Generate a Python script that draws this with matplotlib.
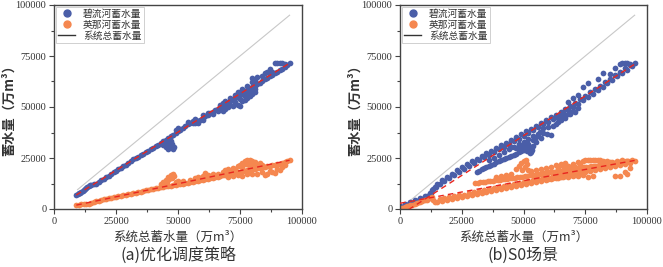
import matplotlib
matplotlib.use("Agg")
import matplotlib.pyplot as plt
import numpy as np
from matplotlib.lines import Line2D

plt.rcParams['font.family'] = ['Noto Sans CJK SC', 'DejaVu Sans']

# ---- data (万m3) ----
# (a) optimised schedule
a_blue = [(9000,6800),(9500,7200),(10000,7600),(10500,8000),(11000,8500),(11500,9000),(12000,9500),(12500,10000),
    (13000,10500),(13500,11000),(14000,11400),(14500,11800),(15000,12000),(16000,12100),(17000,12400),(18000,13200),
    (19000,14000),(20000,14800),(21000,15600),(22000,16400),(23000,17100),(24000,17900),(25000,18600),(26000,19400),
    (27000,20200),(28000,21000),(29000,21800),(30000,22600),(31000,23600),(32000,24400),(33000,25000),(34000,25700),
    (35000,26400),(36000,27100),(37000,27800),(38000,28600),(39000,29300),(40000,30100),(41000,30900),(42000,31600),
    (43000,32400),(44000,33100),(45000,33900),(46000,34600),(47000,35600),(48000,36400),(49000,37300),(50000,38100),
    (51000,38800),(52000,39500),(53000,40600),(54000,41500),(55000,42000),(56000,42100),(57000,42300),(58000,43000),
    (59000,43800),(60000,44600),(61000,45400),(62000,46100),(63000,46900),(64000,47700),(65000,48500),(66000,49200),
    (67000,50000),(68000,50700),(69000,51500),(70000,52200),(71000,53000),(72000,53700),(73000,54500),(74000,55200),
    (75000,56000),(76000,56700),(77000,57500),(78000,58200),(79000,59000),(80000,59700),(81000,60500),(82000,61200),
    (83000,62000),(84000,62700),(85000,63500),(86000,64200),(87000,65000),(88000,65800),(89000,66500),(90000,67300),
    (91000,68000),(92000,68800),(93000,69600),(94000,70400),(95000,71400),
    (44000,31200),(45000,30200),(45500,31800),(46000,29600),(46500,32600),(47000,30600),(47500,31800),(48000,29200),
    (48500,30400),(47000,33500),(49000,38800),(50000,39800),(54000,42600),(56000,43200),(58000,42000),(60000,43600),
    (62000,47200),(64000,46800),(66000,48000),(67000,51200),(68000,48200),(69000,49000),(70000,50000),(71000,51000),
    (72000,50400),(73000,52300),(74000,51200),(75000,50400),(76000,52800),(77000,53500),(78000,54200),(78000,56300),
    (79000,55200),(79500,57000),(80000,56200),(80500,58200),(81000,57400),(81000,59000),(77000,55400),(75000,53800),
    (73000,55800),(71000,54600),(69000,52800),(68000,52000),(74000,57400),(76000,58600),(78000,60200),(80000,62400),
    (81000,63400),(82000,64800),(84000,65200),(85000,66600),(86000,67400),(87000,68800),(88000,67200),(89000,71400),
    (90000,71600),(91000,71500),(92000,71600),(93000,71300),(80000,64200),(60000,46300),(57000,44200)]

a_orange = [(9000,2000),(10000,2100),(11000,2300),(12000,2500),(13000,2300),(14000,2500),(15000,3000),(16000,3500),
    (17000,3800),(18000,4100),(19000,4400),(20000,4700),(21000,4900),(22000,5200),(23000,5400),(24000,5700),
    (25000,5900),(26000,6200),(27000,6400),(28000,6700),(29000,6900),(30000,7200),(31000,7400),(32000,7700),
    (33000,7900),(34000,8200),(35000,8500),(36000,8800),(37000,9100),(38000,9400),(39000,9700),(40000,10000),
    (41000,10200),(42000,10500),(43000,10700),(44000,10900),(45000,11100),(46000,11300),(47000,11500),(48000,11700),
    (49000,11900),(50000,12100),(51000,12300),(52000,12500),(53000,12700),(54000,12900),(55000,13200),(56000,13400),
    (57000,13700),(58000,13900),(59000,14200),(60000,14400),(61000,14700),(62000,14900),(63000,15200),(64000,15400),
    (65000,15700),(66000,15900),(67000,16200),(68000,16500),(69000,16700),(70000,17000),(71000,17200),(72000,17500),
    (73000,17700),(74000,18000),(75000,18200),(76000,18500),(77000,18700),(78000,19000),(79000,19200),(80000,19500),
    (81000,19700),(82000,20000),(83000,20200),(84000,20500),(85000,20700),(86000,21000),(87000,21200),(88000,21500),
    (89000,21700),(90000,22000),(91000,22300),(92000,22600),(93000,23000),(94000,23400),(95000,23800),
    (44000,13200),(45000,14200),(45500,13000),(46000,15600),(46500,14600),(47000,16600),(47500,15400),(48000,17400),
    (48500,16200),(49000,13400),(43000,12400),(50000,13600),(52000,13600),(55000,14400),(57000,15000),(58000,15800),
    (59000,15200),(60000,16400),(61000,17600),(62000,16600),(63000,16000),(64000,17200),(66000,17400),(68000,18200),
    (69000,19000),(70000,19400),(71000,18600),(72000,20200),(73000,19400),(74000,21000),(75000,21800),(76000,22600),
    (77000,23400),(77500,22200),(78000,24000),(79000,24000),(80000,23600),(81000,23200),(78500,21600),(80000,21000),
    (79000,22800),(76000,20400),(82000,21800),(83000,22400),(84000,21600),(72000,16200),(74000,16800),(76000,16400),
    (78000,17400),(80000,17200),(82000,17400),(84000,18000),(85000,16800),(86000,17200),(87000,18600),(88000,18200),
    (89000,17600),(90000,19600),(91000,19000),(92000,20400),(93000,21800),(70000,15800)]

# (b) S0 scenario
b_blue = [(0,1500),(1000,1200),(2000,2300),(3000,2000),(4000,3200),(5000,2900),(6000,4200),(7000,3900),(8000,5200),
    (9000,4900),(10000,6400),(11000,6300),(12000,7800),(12500,7600),(13000,9400),(13500,9600),(14000,11000),
    (14500,11000),(15000,12300),(16000,12500),
    (17000,14200),(18000,13600),(19000,15800),(20000,15100),(21000,17300),(22000,16700),(23000,18900),(24000,18200),
    (25000,20400),(26000,19800),(27000,21900),(28000,21300),(29000,23400),(30000,22600),(31000,24700),(32000,23900),
    (33000,26000),(34000,25300),(35000,27300),(36000,26600),(37000,28600),(38000,27900),(39000,29900),(40000,29200),
    (41000,31200),(42000,30500),(43000,32500),(44000,31800),(45000,33800),(46000,33100),(47000,35200),(48000,34500),
    (49000,36600),(50000,35900),(51000,38000),(52000,37300),(53000,39400),(54000,38700),(55000,40800),(56000,40100),
    (57000,42200),(58000,41500),(59000,43600),(60000,42800),(61000,44900),(62000,44200),(63000,46300),(64000,45600),
    (65000,47700),(66000,47000),(67000,49100),(68000,48400),(69000,50500),(70000,49900),(71000,52200),(72000,51600),
    (73000,53800),(74000,53300),(75000,55500),(76000,54900),(77000,57200),(78000,56600),(79000,58900),(80000,58300),
    (81000,60500),(82000,59900),(83000,62200),(84000,61600),(85000,63800),(86000,63300),(87000,65500),(88000,65000),
    (89000,67200),(90000,66600),(91000,68900),(92000,68300),(93000,70500),(94000,69900),(95000,71500),
    (31000,18300),(32000,18800),(33000,19500),(34000,20000),(35000,20600),(36000,21100),(37000,21700),(38000,22200),
    (39000,22800),(40000,23300),(41000,23900),(42000,24400),(43000,25000),(44000,25500),(45000,26100),(46000,26600),
    (47000,27200),(48000,27700),(49000,28300),(50000,28800),(51000,29400),(52000,29900),(53000,30500),(54000,31000),
    (45000,30400),(47000,30000),(49000,29800),(50000,31200),(51000,30200),(52000,31800),(53000,27800),(53500,29000),
    (52500,27400),(51500,28200),(55000,33000),(56500,37700),(58000,37200),(59500,36600),(61000,36400),(57000,35000),
    (62000,40500),(63000,41500),(64000,42500),(65000,43500),(66000,45000),(67000,44800),(68000,46800),(69000,46500),
    (70000,48000),(71000,47500),(72000,49500),(64000,44500),(66000,46000),(60000,40200),(58000,39600),(55000,35400),
    (54000,33600),(36000,24000),(38000,25200),(40000,26500),(42000,27800),(44000,29200),(46000,30500),(48000,31800),
    (50000,33000),(52000,34300),(54000,35600),(56000,36800),
    (74000,59800),(76000,61700),(80000,63500),(82000,66600),(85000,66000),(87000,69000),
    (89000,71200),(90000,71600),(91000,71600),(92000,71400),(93000,71000),(70000,54500),(72000,56000),(68000,52600)]

b_orange = [(0,200),(1000,500),(2000,900),(3000,1300),(4000,1800),(5000,2200),(6000,2600),(7000,3000),(8000,3400),
    (9000,3800),(10000,4200),(11000,4600),(12000,5200),(12500,5600),(13000,5800),(13500,4400),(14000,3600),
    (15000,3500),(16000,4700),(17000,3700),(18000,5200),(19000,4200),(20000,5700),(21000,4700),(22000,6200),
    (23000,5200),(24000,6700),(25000,5700),(26000,7100),(27000,6200),(28000,7600),(29000,6700),(30000,8100),
    (31000,7200),(32000,8600),(33000,7700),(34000,9100),(35000,8200),(36000,9600),(37000,8700),(38000,10100),
    (39000,9200),(40000,10600),(41000,9700),(42000,11100),(43000,10200),(44000,11600),(45000,10700),(46000,12100),
    (47000,11200),(48000,12600),(49000,11700),(50000,13100),(51000,12100),(52000,13600),(53000,12600),(54000,14100),
    (55000,13100),(56000,14600),(57000,13600),(58000,15100),(59000,14100),(60000,15600),(61000,14600),(62000,16100),
    (63000,15100),(64000,16600),(65000,15600),(66000,17100),(67000,16100),(68000,17600),(69000,16600),(70000,18100),
    (71000,17100),(72000,18600),(73000,17600),(74000,19100),(75000,18100),(76000,19600),(77000,18600),(78000,20100),
    (79000,19100),(80000,20600),(81000,19600),(82000,21100),(83000,20100),(84000,21600),(85000,20600),(86000,22100),
    (87000,21100),(88000,22600),(89000,21600),(90000,23100),(91000,22100),(92000,23600),(93000,22600),(94000,24100),
    (95000,23700),
    (30500,12600),(31500,12800),(32500,13000),(33500,13100),(34500,13300),(35500,13500),(36500,13700),(37500,13800),
    (38500,14000),(39500,14200),(40500,14400),(41500,14500),(42500,14700),(43500,14900),(44500,15100),(45500,15200),
    (46500,15400),(47500,15600),(48500,15800),(49500,15900),(50500,16100),(51500,16300),(52500,16500),(53500,16600),
    (54500,16800),(55500,17000),(56500,17200),(57500,17300),(58500,17500),(59500,17700),(60500,17900),(61500,18000),
    (62500,18300),(63500,18400),(64500,18600),(65500,18800),(66500,18900),(67500,19100),(68500,19300),(69500,19500),
    (70500,19600),(71500,19800),(72500,20000),(73500,20200),(74500,20400),(75500,20500),(76500,20700),(77500,20900),
    (78500,21100),(79500,21200),(80500,21400),(81500,21600),(82500,21800),(83500,21900),(84500,22100),(85500,22300),
    (86500,22500),(87500,22600),(88500,22800),(89500,23000),(90500,23100),(91500,23300),(92500,23500),
    (47000,19500),(48000,21000),(49000,22500),(50000,23500),(51000,24000),(50500,20500),(49500,19000),(52000,19200),
    (51500,22000),(53000,18500),(55000,19000),(57000,19500),(59000,20000),(61000,20500),(63000,21500),(64000,20200),
    (65000,22000),(66000,21000),(67000,22500),(68000,21200),(70000,22000),(72000,22800),(74000,23600),(75000,24000),
    (76000,23800),(77000,24200),(78000,24000),(79000,24200),(80000,23800),(81000,24000),(82000,23600),(83000,23200),
    (84000,23400),(85000,22800),(86000,23000),(88000,23600),(90000,23800),(73000,21800),(71000,20800),(69000,20600),
    (45000,17000),(43000,16500),(41000,16000),(39000,15500),
    (72000,16000),(74000,16600),(76000,15700),(78000,16200),(87000,16000),(89000,16400),(91000,18000),(92000,17000),
    (93000,20000),(60000,14600),(62000,15000),(64000,15200),(66000,15600),(68000,15800),(70000,16200)]

# system total (y = x) and fitted dashed lines: endpoints
a_total_x, a_total_y = [9500, 95000], [9500, 95000]
b_total_x, b_total_y = [0, 95000], [0, 95000]
a_blue_fit_x, a_blue_fit_y = [9000, 95000], [6900, 71500]
a_orange_fit_x, a_orange_fit_y = [9000, 95000], [1900, 23900]
b_blue_fit_x, b_blue_fit_y = [3500, 95000], [-300, 71000]
b_orange_fit_x, b_orange_fit_y = [0, 95000], [2800, 23800]

ticks = [0, 25000, 50000, 75000, 100000]
tick_labels = ['0', '25000', '50000', '75000', '100000']
titles = ['(a)优化调度策略', '(b)S0场景']
labels = ['碧流河蓄水量', '英那河蓄水量', '系统总蓄水量']

blue = '#4a5ea8'
orange = '#f5874f'
red = '#e8261f'
txt = '#333333'

fig = plt.figure(figsize=(6.63, 2.67), dpi=100)
ax_a = fig.add_axes([54/663, 58/267, 248/663, 204/267])
ax_b = fig.add_axes([400/663, 58/267, 247/663, 204/267])

panels = [
    (ax_a, a_blue, a_orange, a_total_x, a_total_y, a_blue_fit_x, a_blue_fit_y, a_orange_fit_x, a_orange_fit_y),
    (ax_b, b_blue, b_orange, b_total_x, b_total_y, b_blue_fit_x, b_blue_fit_y, b_orange_fit_x, b_orange_fit_y),
]

for i, (ax, bl, orn, tx, ty, bfx, bfy, ofx, ofy) in enumerate(panels):
    bl = np.array(bl)
    orn = np.array(orn)
    ax.plot(tx, ty, color='#c8c8c8', lw=0.8, zorder=1)
    ax.scatter(bl[:, 0], bl[:, 1], s=17, color=blue, linewidths=0, zorder=2)
    ax.scatter(orn[:, 0], orn[:, 1], s=17, color=orange, linewidths=0, zorder=2)
    ax.plot(bfx, bfy, color=red, lw=1.0, ls=(0, (4, 3)), zorder=3)
    ax.plot(ofx, ofy, color=red, lw=1.0, ls=(0, (4, 3)), zorder=3)

    ax.set_xlim(0, 100000)
    ax.set_ylim(0, 100000)
    ax.set_xticks(ticks)
    ax.set_yticks(ticks)
    ax.set_xticks([12500, 37500, 62500, 87500], minor=True)
    ax.set_yticks([12500, 37500, 62500, 87500], minor=True)
    ax.set_xticklabels(tick_labels, family='Liberation Serif', fontsize=7.5, color=txt)
    ax.set_yticklabels(tick_labels, family='Liberation Serif', fontsize=7.5, color=txt)
    ax.tick_params(which='major', length=3.5, width=0.8, color='#444444', pad=2)
    ax.tick_params(which='minor', length=2, width=0.8, color='#444444')
    for sp in ax.spines.values():
        sp.set_color('#444444')
        sp.set_linewidth(1.0)

    ax.set_xlabel('系统总蓄水量（万m³）', fontsize=9, color=txt, labelpad=4)
    ax.set_ylabel('蓄水量（万m³）', fontsize=9.5, color=txt, fontweight='bold')
    ax.yaxis.set_label_coords(-0.155, 0.5)

    handles = [
        Line2D([], [], marker='o', ls='', color=blue, markersize=5),
        Line2D([], [], marker='o', ls='', color=orange, markersize=5),
        Line2D([], [], color='#333333', lw=1.0),
    ]
    leg = ax.legend(handles, labels, loc='upper left', fontsize=7, frameon=True, fancybox=False,
                    borderpad=0.2, labelspacing=0.1, handlelength=1.8, handletextpad=0.8,
                    borderaxespad=0.2)
    leg.get_frame().set_edgecolor('#bbbbbb')
    leg.get_frame().set_linewidth(0.6)
    for t in leg.get_texts():
        t.set_color(txt)

fig.text(178/663, 1 - 255/267, titles[0], ha='center', va='center', fontsize=11.5, color=txt)
fig.text(523/663, 1 - 255/267, titles[1], ha='center', va='center', fontsize=11.5, color=txt)

fig.savefig('out.png', dpi=100)
